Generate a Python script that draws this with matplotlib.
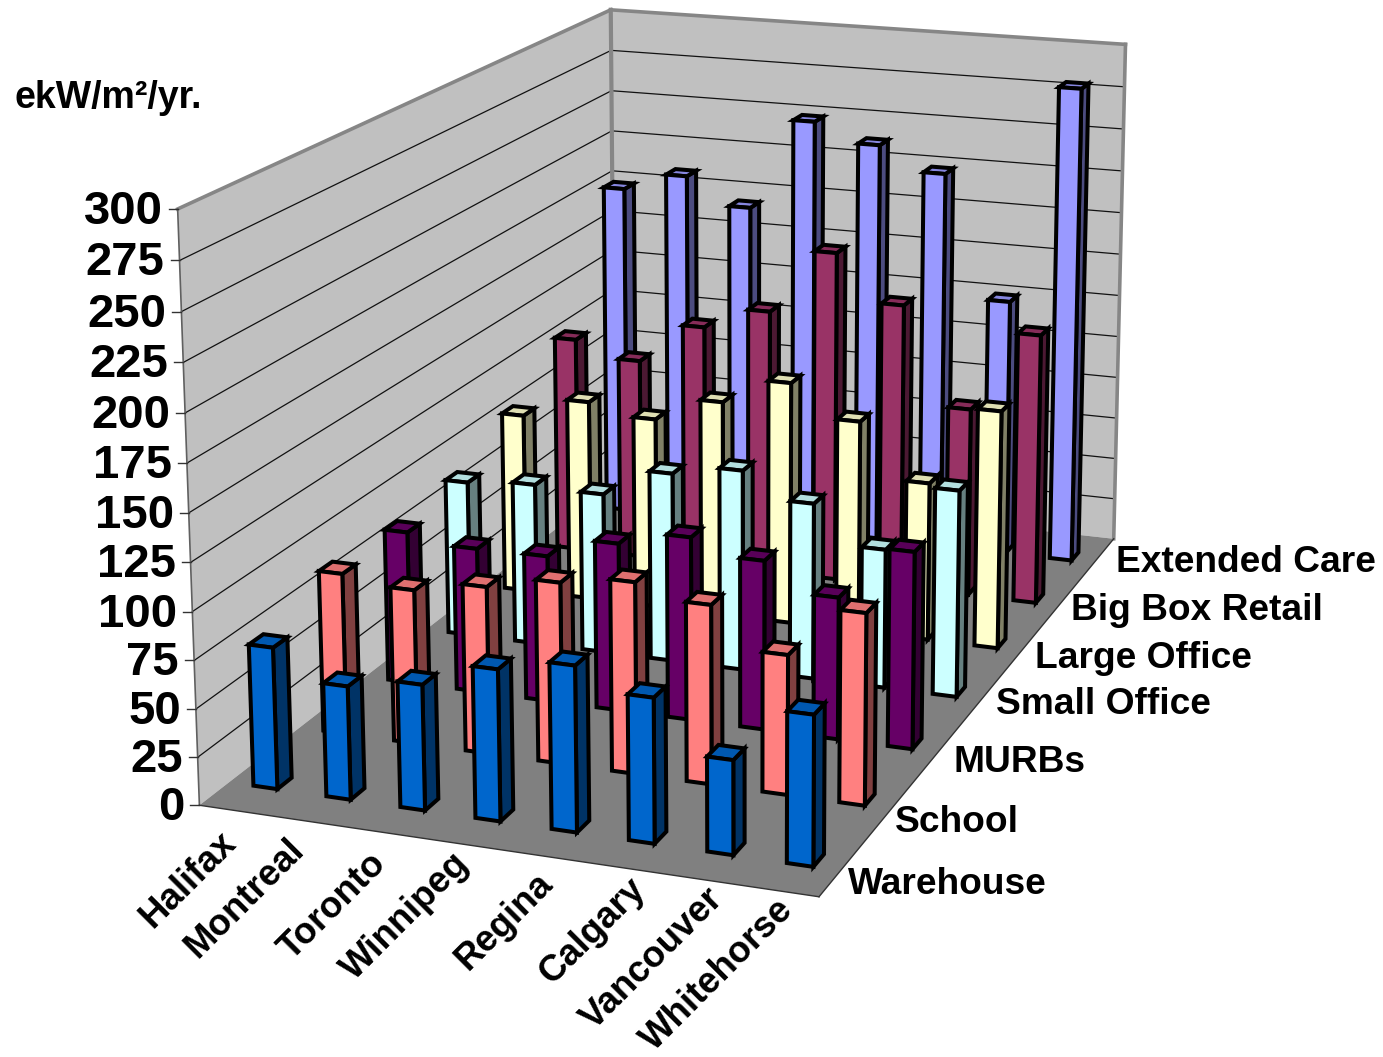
import numpy as np
import matplotlib
matplotlib.use("Agg")
import matplotlib.pyplot as plt
from matplotlib.patches import Polygon

cities = ["Halifax", "Montreal", "Toronto", "Winnipeg", "Regina", "Calgary", "Vancouver", "Whitehorse"]
buildings = ["Warehouse", "School", "MURBs", "Small Office", "Large Office", "Big Box Retail", "Extended Care"]
z_ticks = list(range(0, 301, 25))

warehouse = [74, 59, 65, 78, 85, 74, 48, 76]
school = [86.5, 82.5, 89, 96, 101, 94, 73, 99.5]
murbs = [84, 79.5, 80, 91.5, 99.5, 91.5, 76.5, 105.5]
small_office = [88, 91, 90, 106, 112, 98, 77, 114]
large_office = [104, 116, 110, 124, 139, 121, 90, 135]
big_box = [128, 119, 143, 156, 194, 167, 110, 157]
extended_care = [201, 212, 196, 251, 240, 226, 153, 282]
series = [warehouse, school, murbs, small_office, large_office, big_box, extended_care]

# front, side, top shades per building type
shades = [
    ("#0066CC", "#003366", "#0058B0"),
    ("#FF8080", "#804040", "#DF7070"),
    ("#660066", "#330033", "#590059"),
    ("#CCFFFF", "#668080", "#B3DFDF"),
    ("#FFFFCC", "#808066", "#DFDFB3"),
    ("#993366", "#4C1933", "#862C59"),
    ("#9999FF", "#4C4C80", "#8686DF"),
]

nx, ny, zmax = len(cities), len(buildings), z_ticks[-1]

# Perspective camera solved from the box corners (world -> canvas pixels)
anchors = [
    ((0, 0, 0), (200, 806)),
    ((nx, 0, 0), (818, 897)),
    ((nx, ny, 0), (1114, 538)),
    ((0, 0, zmax), (178, 208)),
    ((0, ny, zmax), (610, 10)),
    ((nx, ny, zmax), (1126, 45)),
]
rows, rhs = [], []
for (X, Y, Z), (u, v) in anchors:
    rows.append([X, Y, Z, 1, 0, 0, 0, 0, -u * X, -u * Y, -u * Z])
    rhs.append(u)
    rows.append([0, 0, 0, 0, X, Y, Z, 1, -v * X, -v * Y, -v * Z])
    rhs.append(v)
sol = np.linalg.lstsq(np.array(rows, float), np.array(rhs, float), rcond=None)[0]
P = np.append(sol, 1.0).reshape(3, 4)


def proj(x, y, z):
    h = P @ np.array([x, y, z, 1.0])
    return h[0] / h[2], h[1] / h[2]


fig = plt.figure(figsize=(13.83, 10.57), dpi=100)
ax = fig.add_axes([0, 0, 1, 1])
ax.set_xlim(0, 1383)
ax.set_ylim(1057, 0)
ax.axis("off")


def face(pts, fc, ec="none", lw=0, zo=1):
    ax.add_patch(Polygon([proj(*p) for p in pts], closed=True, facecolor=fc,
                         edgecolor=ec, linewidth=lw, joinstyle="miter", zorder=zo))


def seg(a, b, color, lw, zo=2):
    pa, pb = proj(*a), proj(*b)
    ax.plot([pa[0], pb[0]], [pa[1], pb[1]], color=color, lw=lw, zorder=zo, solid_capstyle="projecting")


# Walls and floor
face([(0, 0, 0), (0, ny, 0), (0, ny, zmax), (0, 0, zmax)], "#C0C0C0")
face([(0, ny, 0), (nx, ny, 0), (nx, ny, zmax), (0, ny, zmax)], "#C0C0C0")
face([(0, 0, 0), (nx, 0, 0), (nx, ny, 0), (0, ny, 0)], "#808080")

for t in z_ticks[1:-1]:
    seg((0, 0, t), (0, ny, t), "#111111", 0.9)
    seg((0, ny, t), (nx, ny, t), "#111111", 0.9)

seg((0, 0, zmax), (0, ny, zmax), "#868686", 2.6)
seg((0, ny, zmax), (nx, ny, zmax), "#868686", 2.6)
seg((0, ny, 0), (0, ny, zmax), "#868686", 3.0)
seg((nx, ny, 0), (nx, ny, zmax), "#868686", 2.6)
seg((0, 0, 0), (0, 0, zmax), "#606060", 1.2)
seg((0, 0, 0), (nx, 0, 0), "#333333", 1.0)
seg((nx, 0, 0), (nx, ny, 0), "#333333", 1.0)

# Value axis ticks and labels
for t in z_ticks:
    u, v = proj(0, 0, t)
    ax.plot([u - 9, u], [v, v], color="#333333", lw=1.0, zorder=2)
    ax.text(u - 15, v + 3, str(t), ha="right", va="center", fontsize=34,
            fontweight="bold", family="Liberation Sans", color="black")

# Bars, painted from the back row forward
half_x, half_y = 0.165, 0.10
for j in range(ny - 1, -1, -1):
    front, side, top = shades[j]
    for i in range(nx):
        h = series[j][i]
        x0, x1 = i + 0.5 - half_x, i + 0.5 + half_x
        y0, y1 = j + 0.5 - half_y, j + 0.5 + half_y
        zo = 10 + (ny - j) * 100 + i
        kw = dict(ec="black", lw=2.9, zo=zo)
        face([(x1, y0, 0), (x1, y1, 0), (x1, y1, h), (x1, y0, h)], side, **kw)
        face([(x0, y0, h), (x1, y0, h), (x1, y1, h), (x0, y1, h)], top, **kw)
        face([(x0, y0, 0), (x1, y0, 0), (x1, y0, h), (x0, y0, h)], front, **kw)

# Category labels along the front edge
city_anchor = [(218, 825), (286, 832), (368, 846), (451, 846), (535, 866), (628, 871), (705, 881), (776, 892)]
for name, (u, v) in zip(cities, city_anchor):
    ax.text(u, v, name, rotation=45, rotation_mode="anchor", ha="right", va="top",
            fontsize=26.4, fontweight="bold", family="Liberation Sans", color="black")

# Depth labels along the right edge
depth_anchor = [(848, 884), (895, 823), (953, 763), (996, 705), (1035, 658), (1071, 611), (1116, 563)]
for name, (u, v) in zip(buildings, depth_anchor):
    ax.text(u, v, name, ha="left", va="center", fontsize=26.7, fontweight="bold",
            family="Liberation Sans", color="black")

ax.text(14, 98, "ekW/m²/yr.", ha="left", va="center", fontsize=27, fontweight="bold",
        family="Liberation Sans", color="black")

fig.savefig("out.png", dpi=100)
